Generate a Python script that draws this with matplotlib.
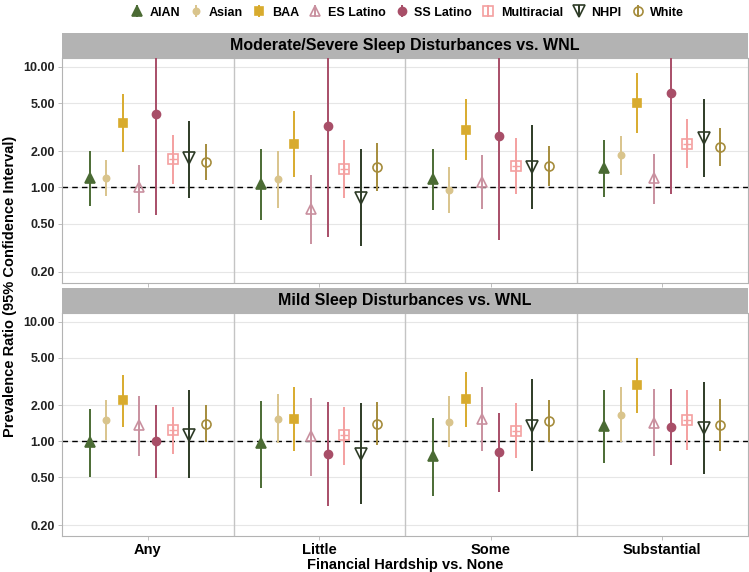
import numpy as np
import matplotlib
matplotlib.use('Agg')
import matplotlib.pyplot as plt

plt.rcParams['font.family'] = ['Liberation Sans', 'DejaVu Sans']

# --- datos ---
hardship = ['Any', 'Little', 'Some', 'Substantial']
groups = ['AIAN', 'Asian', 'BAA', 'ES Latino', 'SS Latino', 'Multiracial', 'NHPI', 'White']
panel_titles = ['Moderate/Severe Sleep Disturbances vs. WNL', 'Mild Sleep Disturbances vs. WNL']

# Moderate/Severe: filas = grupo, columnas = Any, Little, Some, Substantial
mod_pr = [[1.19, 1.07, 1.18, 1.45],
          [1.20, 1.18, 0.96, 1.85],
          [3.40, 2.28, 3.02, 5.04],
          [1.00, 0.67, 1.12, 1.19],
          [4.06, 3.25, 2.65, 6.10],
          [1.73, 1.43, 1.51, 2.31],
          [1.76, 0.82, 1.47, 2.57],
          [1.64, 1.48, 1.50, 2.18]]
mod_lo = [[0.70, 0.54, 0.65, 0.83],
          [0.85, 0.68, 0.62, 1.27],
          [1.95, 1.22, 1.69, 2.85],
          [0.62, 0.34, 0.67, 0.73],
          [0.595, 0.39, 0.37, 0.89],
          [1.07, 0.82, 0.89, 1.44],
          [0.82, 0.33, 0.67, 1.23],
          [1.16, 0.94, 1.03, 1.51]]
mod_hi = [[2.00, 2.07, 2.09, 2.49],
          [1.70, 2.02, 1.47, 2.65],
          [5.95, 4.30, 5.44, 8.90],
          [1.54, 1.28, 1.86, 1.88],
          [28.0, 27.0, 19.0, 42.0],
          [2.74, 2.48, 2.57, 3.72],
          [3.53, 2.07, 3.27, 5.44],
          [2.31, 2.35, 2.19, 3.13]]

# Mild
mild_pr = [[0.98, 0.96, 0.75, 1.34],
           [1.50, 1.55, 1.46, 1.65],
           [2.20, 1.55, 2.24, 2.93],
           [1.36, 1.11, 1.55, 1.43],
           [1.00, 0.78, 0.81, 1.33],
           [1.24, 1.12, 1.23, 1.50],
           [1.14, 0.79, 1.35, 1.30],
           [1.40, 1.39, 1.49, 1.38]]
mild_lo = [[0.50, 0.41, 0.35, 0.66],
           [1.03, 0.96, 0.90, 0.98],
           [1.33, 0.83, 1.31, 1.72],
           [0.75, 0.51, 0.83, 0.75],
           [0.49, 0.29, 0.38, 0.63],
           [0.79, 0.64, 0.72, 0.85],
           [0.49, 0.30, 0.56, 0.53],
           [0.99, 0.93, 0.99, 0.83]]
mild_hi = [[1.85, 2.18, 1.58, 2.66],
           [2.22, 2.48, 2.37, 2.82],
           [3.60, 2.86, 3.83, 4.94],
           [2.40, 2.31, 2.83, 2.75],
           [2.02, 2.14, 1.73, 2.75],
           [1.93, 1.93, 2.10, 2.66],
           [2.70, 2.10, 3.33, 3.16],
           [2.00, 2.14, 2.20, 2.27]]

colors = ['#4b6b34', '#d9c48c', '#d8ab2e', '#c9909f', '#a84e68', '#f4a0a0', '#2d3b26', '#a58c3c']
markers = ['^', 'o', 's', '^', 'o', 's', 'v', 'o']
filled = [True, True, True, False, True, False, False, False]
msizes = [7, 4.5, 6, 7.5, 5.8, 6.5, 8, 6.5]

yticks = [0.2, 0.5, 1, 2, 5, 10]
ylabels = ['0.20', '0.50', '1.00', '2.00', '5.00', '10.00']

fig = plt.figure(figsize=(7.49, 5.72), dpi=100)

W, H = 749, 572
def rect(x0, y0, x1, y1):
    return [x0 / W, 1 - y1 / H, (x1 - x0) / W, (y1 - y0) / H]

panels = [(rect(62, 58, 748, 283), rect(62, 33, 748, 58), mod_pr, mod_lo, mod_hi),
          (rect(62, 313, 748, 536), rect(62, 288, 748, 313), mild_pr, mild_lo, mild_hi)]

x = np.arange(len(hardship))
step = 0.097
handles = []
for p, (prect, srect, pr, lo, hi) in enumerate(panels):
    ax = fig.add_axes(prect)
    ax.set_yscale('log')
    ax.set_xlim(-0.5, 3.5)
    ax.set_ylim(0.162, 11.8)
    for yt in yticks:
        ax.axhline(yt, color='#e6e6e6', lw=0.8, zorder=0)
    for xb in [0.5, 1.5, 2.5]:
        ax.axvline(xb, color='#c4c4c4', lw=1.0, zorder=0.5)
    ax.axhline(1, color='black', lw=1.0, ls=(0, (4, 3)), zorder=1)

    for g in range(len(groups)):
        xs = x + (g - 3.5) * step
        v = np.array(pr[g])
        l = np.array(lo[g])
        h = np.array(hi[g])
        c = colors[g]
        eb = ax.errorbar(xs, v, yerr=[v - l, h - v], fmt=markers[g], color=c,
                         ecolor=c, elinewidth=1.4, capsize=0, ms=msizes[g],
                         mfc=c if filled[g] else 'none', mec=c,
                         mew=1.2, label=groups[g], zorder=3)
        if groups[g] == 'Multiracial':
            ax.plot(xs, v, '+', color=c, ms=msizes[g] * 0.95, mew=1.0, zorder=4)
        if p == 0:
            handles.append(eb)

    ax.set_yticks(yticks)
    ax.set_yticklabels(ylabels)
    ax.minorticks_off()
    ax.set_xticks(x)
    if p == 1:
        ax.set_xticklabels(hardship, fontsize=10.5, fontweight='bold', color='black')
        ax.set_xlabel('Financial Hardship vs. None', fontsize=10.5, fontweight='bold', labelpad=1)
    else:
        ax.set_xticklabels([])
    ax.tick_params(axis='both', length=3, color='#b3b3b3', width=0.6, pad=2)
    ax.tick_params(axis='y', labelsize=9, labelcolor='#222222')
    for t in ax.get_yticklabels():
        t.set_fontweight('bold')
    for s in ax.spines.values():
        s.set_color('#b3b3b3')
        s.set_linewidth(0.8)

    sax = fig.add_axes(srect)
    sax.set_facecolor('#b3b3b3')
    sax.set_xticks([])
    sax.set_yticks([])
    for s in sax.spines.values():
        s.set_visible(False)
    sax.text(0.5, 0.5, panel_titles[p], ha='center', va='center',
             fontsize=11.5, fontweight='bold', color='black', transform=sax.transAxes)

fig.text(0.014, 0.5, 'Prevalence Ratio (95% Confidence Interval)', rotation=90,
         ha='center', va='center', fontsize=10.5, fontweight='bold')

fig.legend(handles, groups, loc='center', bbox_to_anchor=(0.545, 0.978), ncol=8,
           frameon=False, prop={'weight': 'bold', 'size': 9}, handlelength=0.8,
           handletextpad=0.6, columnspacing=0.9, borderaxespad=0)

fig.savefig('out.png', dpi=100)
